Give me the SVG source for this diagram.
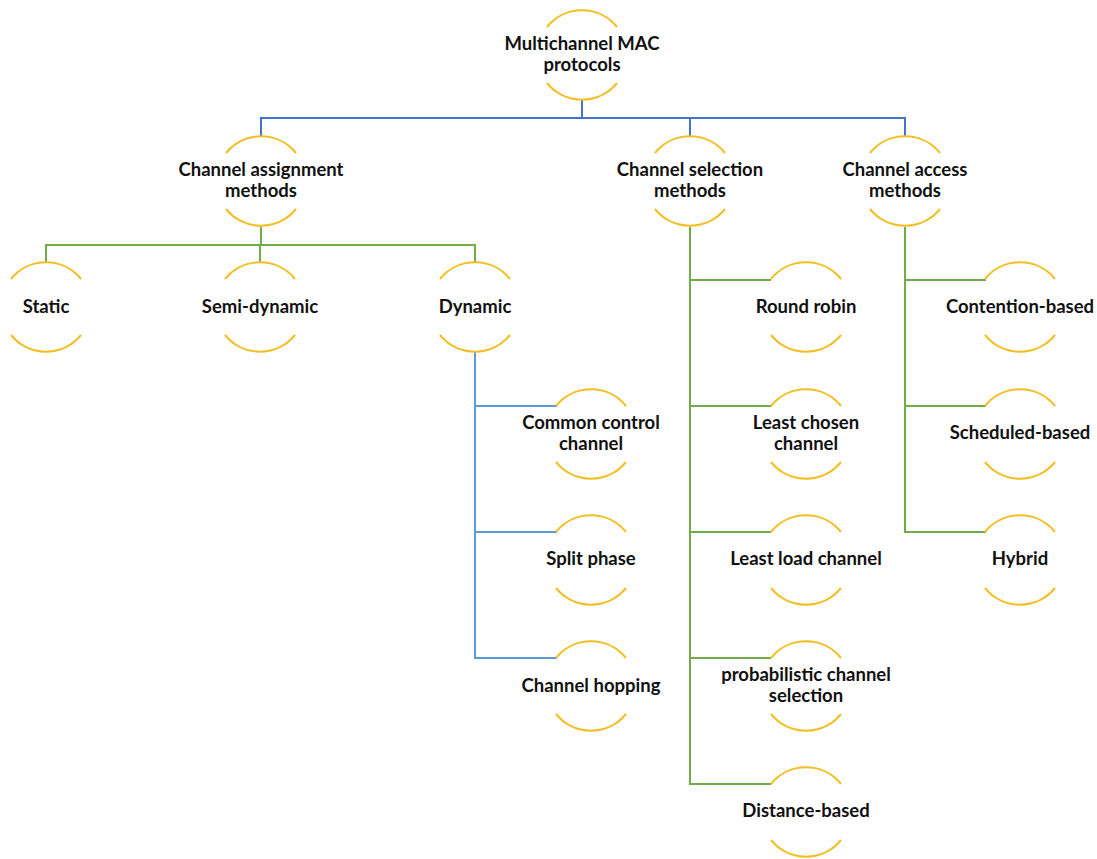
<svg xmlns="http://www.w3.org/2000/svg" width="1097" height="859" viewBox="0 0 1097 859">
<style>
.arc{fill:none;stroke:#F2BE22;stroke-width:2}
.t{font-family:Lato,"Open Sans","Liberation Sans",sans-serif;font-weight:bold;font-size:18.5px;fill:#111;text-anchor:middle}
.b{fill:none;stroke:#4472C4;stroke-width:2}
.lb{fill:none;stroke:#5B9BD5;stroke-width:2}
.g{fill:none;stroke:#70AD47;stroke-width:2}
</style>
<defs>
<g id="ring">
<path class="arc" d="M-35,-28 A45,45 0 0 1 35,-28"/>
<path class="arc" d="M-35,28 A45,45 0 0 0 35,28"/>
</g>
</defs>
<rect width="1097" height="859" fill="#fff"/>
<g id="connectors">
<path class="b" d="M582,100 V118 M261,136 V118 H905 V136 M690,118 V136"/>
<path class="g" d="M261,227 V245 M46,262 V245 H475 V262 M260,245 V262"/>
<path class="lb" d="M475,352 V658 H557 M475,406 H557 M475,532 H557"/>
<path class="g" d="M690,227 V784 H771 M690,280 H771 M690,406 H771 M690,532 H771 M690,658 H771"/>
<path class="g" d="M905,227 V532 H986 M905,280 H986 M905,406 H986"/>
</g>
<g id="n-root"><use href="#ring" x="582" y="55"/><text class="t" x="582" y="50">Multichannel MAC</text><text class="t" x="582" y="71">protocols</text></g>
<g id="n-assign"><use href="#ring" x="261" y="181"/><text class="t" x="261" y="176">Channel assignment</text><text class="t" x="261" y="197">methods</text></g>
<g id="n-select"><use href="#ring" x="690" y="181"/><text class="t" x="690" y="176">Channel selection</text><text class="t" x="690" y="197">methods</text></g>
<g id="n-access"><use href="#ring" x="905" y="181"/><text class="t" x="905" y="176">Channel access</text><text class="t" x="905" y="197">methods</text></g>
<g id="n-static"><use href="#ring" x="46" y="307"/><text class="t" x="46" y="313">Static</text></g>
<g id="n-semi"><use href="#ring" x="260" y="307"/><text class="t" x="260" y="313">Semi-dynamic</text></g>
<g id="n-dynamic"><use href="#ring" x="475" y="307"/><text class="t" x="475" y="313">Dynamic</text></g>
<g id="n-ccc"><use href="#ring" x="591" y="434"/><text class="t" x="591" y="429">Common control</text><text class="t" x="591" y="450">channel</text></g>
<g id="n-split"><use href="#ring" x="591" y="560"/><text class="t" x="591" y="565">Split phase</text></g>
<g id="n-hop"><use href="#ring" x="591" y="686"/><text class="t" x="591" y="692">Channel hopping</text></g>
<g id="n-rr"><use href="#ring" x="806" y="307"/><text class="t" x="806" y="313">Round robin</text></g>
<g id="n-lcc"><use href="#ring" x="806" y="434"/><text class="t" x="806" y="429">Least chosen</text><text class="t" x="806" y="450">channel</text></g>
<g id="n-llc"><use href="#ring" x="806" y="560"/><text class="t" x="806" y="565">Least load channel</text></g>
<g id="n-prob"><use href="#ring" x="806" y="686"/><text class="t" x="806" y="681">probabilistic channel</text><text class="t" x="806" y="702">selection</text></g>
<g id="n-dist"><use href="#ring" x="806" y="812"/><text class="t" x="806" y="817">Distance-based</text></g>
<g id="n-cont"><use href="#ring" x="1020" y="307"/><text class="t" x="1020" y="313">Contention-based</text></g>
<g id="n-sched"><use href="#ring" x="1020" y="434"/><text class="t" x="1020" y="439">Scheduled-based</text></g>
<g id="n-hybrid"><use href="#ring" x="1020" y="560"/><text class="t" x="1020" y="565">Hybrid</text></g>
</svg>
